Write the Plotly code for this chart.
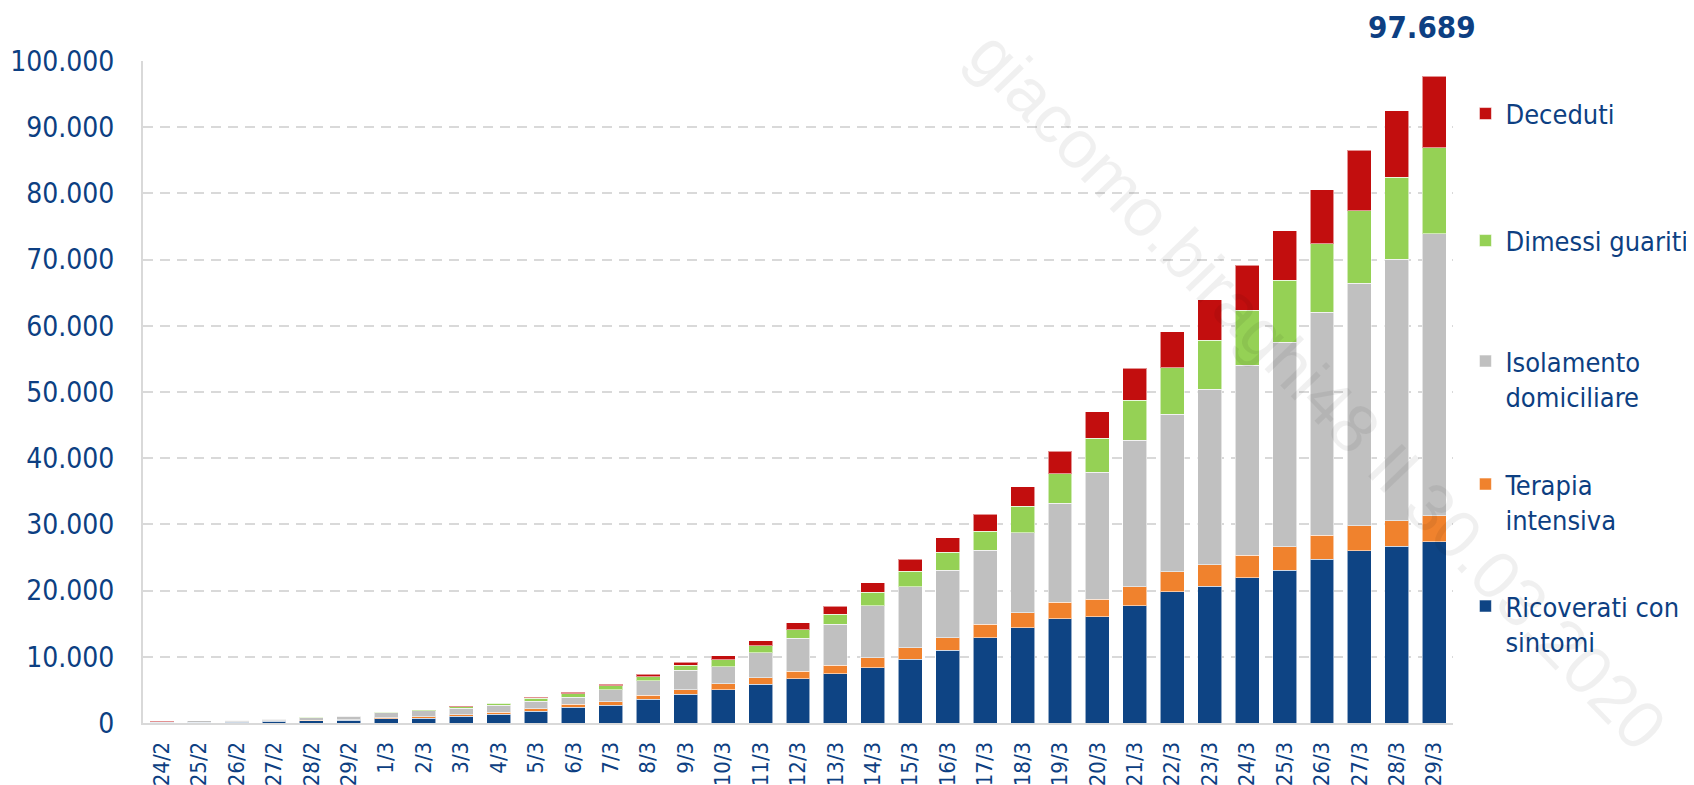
import plotly.graph_objects as go

# ---- data ----
dates = ["24/2", "25/2", "26/2", "27/2", "28/2", "29/2", "1/3", "2/3", "3/3", "4/3",
         "5/3", "6/3", "7/3", "8/3", "9/3", "10/3", "11/3", "12/3", "13/3", "14/3",
         "15/3", "16/3", "17/3", "18/3", "19/3", "20/3", "21/3", "22/3", "23/3", "24/3",
         "25/3", "26/3", "27/3", "28/3", "29/3"]

ricoverati = [101, 114, 128, 248, 345, 401, 639, 742, 1034, 1346,
              1790, 2394, 2651, 3557, 4316, 5038, 5838, 6650, 7426, 8372,
              9663, 11025, 12894, 14363, 15757, 16020, 17708, 19846, 20692, 21937,
              23112, 24753, 26029, 26676, 27386]
terapia = [26, 35, 36, 56, 64, 105, 140, 166, 229, 295,
           351, 462, 567, 650, 733, 877, 1028, 1153, 1328, 1518,
           1672, 1851, 2060, 2257, 2498, 2655, 2857, 3009, 3204, 3396,
           3489, 3612, 3732, 3856, 3906]
isolamento = [94, 162, 221, 284, 412, 543, 798, 927, 1000, 1065,
              1155, 1060, 1843, 2180, 2936, 2599, 3724, 5036, 6201, 7860,
              9268, 10197, 11108, 12090, 14935, 19185, 22116, 23783, 26522, 28697,
              30920, 33648, 36653, 39533, 42588]
dimessi = [1, 1, 3, 45, 46, 50, 83, 149, 160, 276,
           414, 523, 589, 622, 724, 1004, 1045, 1258, 1439, 1966,
           2335, 2749, 2941, 4025, 4440, 5129, 6072, 7024, 7432, 8326,
           9362, 10361, 10950, 12384, 13030]
deceduti = [7, 10, 12, 17, 21, 29, 34, 52, 79, 107,
            148, 197, 233, 366, 463, 631, 827, 1016, 1266, 1441,
            1809, 2158, 2503, 2978, 3405, 4032, 4825, 5476, 6077, 6820,
            7503, 8165, 9134, 10023, 10779]

series_names = ["Ricoverati con<br>sintomi", "Terapia<br>intensiva", "Isolamento<br>domiciliare",
                "Dimessi guariti", "Deceduti"]
series_values = [ricoverati, terapia, isolamento, dimessi, deceduti]
series_colors = ["#0E4484", "#F0822D", "#C0C0C0", "#95D155", "#C20E0E"]
watermark = "giacomo.biraghi48 Il 30.03.2020"

# ---- layout geometry (page pixels) ----
W, H = 1694, 785
OFF = 8  # default page body margin offsets the figure
L, R, T, B = 143, 241, 61, 62
plot_w = W - L - R
plot_h = H - T - B
TXT = "#0D3F82"
FONT = "DejaVu Sans Condensed, DejaVu Sans, sans-serif"

legend_centers_px = [624, 502, 379, 241, 114]

fig = go.Figure()
for i, (name, vals, col) in enumerate(zip(series_names, series_values, series_colors)):
    leg = "legend" if i == 0 else f"legend{i+1}"
    fig.add_trace(go.Bar(
        x=dates, y=vals, name=name, marker_color=col,
        marker_line=dict(color="rgba(255,255,255,0.55)", width=1),
        legend=leg, showlegend=True,
    ))

legends = {}
for i, cy in enumerate(legend_centers_px):
    key = "legend" if i == 0 else f"legend{i+1}"
    legends[key] = dict(
        x=1.0095, xanchor="left", y=(H - B - cy) / plot_h, yanchor="middle",
        font=dict(family=FONT, size=27, color=TXT),
        bgcolor="rgba(0,0,0,0)", valign="top", itemwidth=30,
        tracegroupgap=0,
    )

total_last = sum(s[-1] for s in series_values)
total_txt = f"{total_last:,}".replace(",", ".")

fig.update_layout(
    width=W - OFF, height=H - OFF,
    margin=dict(l=L - OFF, r=R, t=T - OFF, b=B, autoexpand=False),
    paper_bgcolor="white", plot_bgcolor="white",
    barmode="stack", bargap=0.36,
    separators=",.",
    font=dict(family=FONT, color=TXT),
    **legends,
    xaxis=dict(
        type="category", tickangle=-90, automargin=False,
        range=[-0.5, len(dates) - 0.5],
        tickfont=dict(family=FONT, size=22, color=TXT),
        showline=True, linecolor="#D9D9D9", linewidth=2,
        showgrid=False, ticks="", ticklabelstandoff=8,
    ),
    yaxis=dict(
        range=[0, 100000], dtick=10000, tickformat=",.0f", automargin=False,
        tickfont=dict(family=FONT, size=28, color=TXT),
        showline=True, linecolor="#D9D9D9", linewidth=2,
        showgrid=True, gridcolor="#D9D9D9", gridwidth=2, griddash="10px,7px",
        zeroline=False, ticks="", ticklabelstandoff=21,
    ),
    annotations=[
        dict(x=dates[-1], xref="x", y=1 + 34 / plot_h, yref="paper",
             text=f"<b>{total_txt}</b>", showarrow=False, xshift=-12,
             font=dict(family=FONT, size=31, color=TXT),
             xanchor="center", yanchor="middle"),
        dict(x=(1318 - L) / plot_w, xref="paper", y=(H - B - 390) / plot_h, yref="paper",
             text=watermark, showarrow=False, textangle=46,
             xanchor="center", yanchor="middle",
             font=dict(family="Liberation Sans, Arial, sans-serif", size=68,
                       color="rgba(0,0,0,0.06)")),
    ],
)

fig.write_html("out.html")
